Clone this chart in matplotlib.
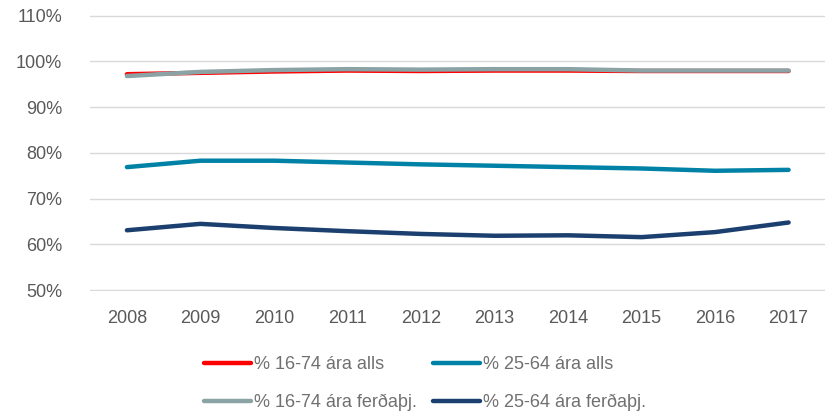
import matplotlib.pyplot as plt
from matplotlib.ticker import FuncFormatter

years = ['2008', '2009', '2010', '2011', '2012', '2013', '2014', '2015', '2016', '2017']
alls_16_74 = [97.2, 97.5, 97.8, 98.0, 97.9, 98.0, 98.0, 97.9, 97.9, 97.9]
alls_25_64 = [76.9, 78.3, 78.3, 77.9, 77.5, 77.2, 76.9, 76.6, 76.1, 76.3]
ferd_16_74 = [96.8, 97.7, 98.1, 98.3, 98.2, 98.3, 98.3, 98.0, 98.0, 98.0]
ferd_25_64 = [63.1, 64.5, 63.6, 62.9, 62.3, 61.9, 62.0, 61.6, 62.7, 64.8]

plt.rcParams['font.family'] = ['Liberation Sans', 'DejaVu Sans']

fig = plt.figure(figsize=(8.27, 4.15), dpi=100)
ax = fig.add_axes([0.109, 0.299, 0.889, 0.665])

x = range(len(years))
lw = 3.2
l1, = ax.plot(x, alls_16_74, color='#FF0000', lw=lw, solid_capstyle='round', label='% 16-74 ára alls', zorder=3)
l2, = ax.plot(x, alls_25_64, color='#0082A6', lw=lw, solid_capstyle='round', label='% 25-64 ára alls', zorder=3)
l3, = ax.plot(x, ferd_16_74, color='#8BA3A5', lw=lw, solid_capstyle='round', label='% 16-74 ára ferðaþj.', zorder=4)
l4, = ax.plot(x, ferd_25_64, color='#1B3F6E', lw=lw, solid_capstyle='round', label='% 25-64 ára ferðaþj.', zorder=3)

ax.set_xlim(-0.5, len(years) - 0.5)
ax.set_ylim(49.85, 110.15)
ax.set_yticks(range(50, 111, 10))
ax.yaxis.set_major_formatter(FuncFormatter(lambda v, p: f'{v:.0f}%'))
ax.set_xticks(list(x))
ax.set_xticklabels(years)
ax.grid(axis='y', color='#D9D9D9', lw=1)
ax.set_axisbelow(True)
for s in ax.spines.values():
    s.set_visible(False)
ax.tick_params(length=0, labelsize=13, labelcolor='#595959', pad=14)
ax.tick_params(axis='y', pad=20)

# column-wise fill -> order so rows read alls / ferðaþj.
handles = [l1, l3, l2, l4]
leg = fig.legend(handles=handles, labels=[h.get_label() for h in handles],
                 loc='lower center', bbox_to_anchor=(0.514, -0.03), ncol=2, frameon=False,
                 fontsize=13, labelcolor='#707070', handlelength=2.6, handletextpad=0.15,
                 columnspacing=0.9, labelspacing=1.15)
for h in leg.get_lines():
    h.set_solid_capstyle('round')

fig.savefig('out.png', dpi=100)
